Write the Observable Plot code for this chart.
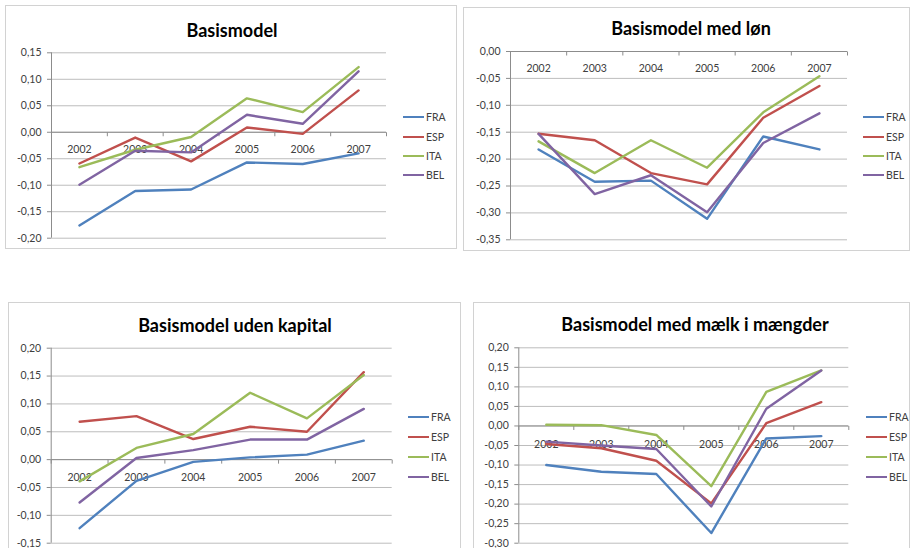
<!DOCTYPE html>
<html><head><meta charset="utf-8">
<script src="https://cdn.jsdelivr.net/npm/d3@7"></script>
<script src="https://cdn.jsdelivr.net/npm/@observablehq/plot@0.6"></script>
<style>
body{margin:0;background:#fff;font-family:Lato,"Open Sans",sans-serif;}
#root{position:relative;width:911px;height:548px;overflow:hidden;background:#fff}
.panel{position:absolute;border:1px solid #d2d2d2;box-sizing:border-box;background:#fff}
.title{position:absolute;font-weight:bold;font-size:18px;color:#000;transform:translate(-50%,-50%);white-space:nowrap}
.lrow{position:absolute;display:flex;align-items:center;white-space:nowrap;transform:translateY(-50%);font-size:10.5px;color:#404040}
.lrow .sw{width:21px;height:2px;margin-right:2px}
.plotwrap{position:absolute}
</style></head><body><div id="root"></div>
<script>
// ---- data ----
const years = ["2002", "2003", "2004", "2005", "2006", "2007"];
const series = ["FRA", "ESP", "ITA", "BEL"];
const seriesColors = ["#4f81bd", "#c0504d", "#9bbb59", "#8064a2"];
const titles = ["Basismodel", "Basismodel med løn", "Basismodel uden kapital", "Basismodel med mælk i mængder"];

// Basismodel
const basisFRA = [-0.176, -0.111, -0.108, -0.057, -0.060, -0.040];
const basisESP = [-0.059, -0.010, -0.055, 0.009, -0.003, 0.079];
const basisITA = [-0.066, -0.033, -0.009, 0.064, 0.038, 0.123];
const basisBEL = [-0.099, -0.035, -0.038, 0.033, 0.016, 0.115];
const basisTicks = [-0.20, -0.15, -0.10, -0.05, 0.00, 0.05, 0.10, 0.15];

// Basismodel med løn
const lonFRA = [-0.182, -0.242, -0.240, -0.311, -0.158, -0.182];
const lonESP = [-0.153, -0.165, -0.226, -0.247, -0.123, -0.064];
const lonITA = [-0.167, -0.226, -0.165, -0.216, -0.113, -0.046];
const lonBEL = [-0.153, -0.265, -0.230, -0.299, -0.170, -0.115];
const lonTicks = [-0.35, -0.30, -0.25, -0.20, -0.15, -0.10, -0.05, 0.00];

// Basismodel uden kapital
const kapFRA = [-0.123, -0.038, -0.004, 0.004, 0.009, 0.034];
const kapESP = [0.068, 0.078, 0.037, 0.059, 0.050, 0.157];
const kapITA = [-0.039, 0.021, 0.046, 0.120, 0.074, 0.152];
const kapBEL = [-0.077, 0.003, 0.017, 0.036, 0.036, 0.091];
const kapTicks = [-0.15, -0.10, -0.05, 0.00, 0.05, 0.10, 0.15, 0.20];

// Basismodel med mælk i mængder
const maelkFRA = [-0.100, -0.117, -0.123, -0.274, -0.032, -0.026];
const maelkESP = [-0.046, -0.057, -0.089, -0.198, 0.007, 0.061];
const maelkITA = [0.003, 0.002, -0.023, -0.154, 0.087, 0.142];
const maelkBEL = [-0.040, -0.050, -0.059, -0.206, 0.044, 0.142];
const maelkTicks = [-0.30, -0.25, -0.20, -0.15, -0.10, -0.05, 0.00, 0.05, 0.10, 0.15, 0.20];

// ---- layout (page pixel coordinates) ----
const panels = [
  {title: titles[0], values: [basisFRA, basisESP, basisITA, basisBEL], ticks: basisTicks,
   box: {x0: 5, y0: 5, x1: 457, y1: 249}, area: {l: 51, r: 386, t: 52.3, b: 237.7},
   titlePos: [232, 30], legendX: 403, legendY: [117, 136.5, 156, 175], labelDy: 17},
  {title: titles[1], values: [lonFRA, lonESP, lonITA, lonBEL], ticks: lonTicks,
   box: {x0: 463, y0: 7, x1: 910, y1: 251}, area: {l: 510, r: 847, t: 51, b: 239.3},
   titlePos: [691, 28], legendX: 863, legendY: [117, 136.5, 156, 175], labelDy: 17},
  {title: titles[2], values: [kapFRA, kapESP, kapITA, kapBEL], ticks: kapTicks,
   box: {x0: 8, y0: 302, x1: 461, y1: 570}, area: {l: 50.7, r: 391.7, t: 347.7, b: 542.7},
   titlePos: [235, 325], legendX: 408, legendY: [416.7, 436.7, 456.7, 476.7], labelDy: 18},
  {title: titles[3], values: [maelkFRA, maelkESP, maelkITA, maelkBEL], ticks: maelkTicks,
   box: {x0: 473, y0: 302, x1: 910, y1: 570}, area: {l: 518.3, r: 848.3, t: 347.3, b: 542.7},
   titlePos: [695, 324.3], legendX: 866, legendY: [416.7, 436.7, 456.7, 476.7], labelDy: 18.5}
];

const gridColor = "#bdbdbd";
const axisColor = "#8c8c8c";
const textColor = "#404040";
const fmt = d => d.toFixed(2).replace(".", ",");
const tickDown = {draw(context) { context.moveTo(0, 0); context.lineTo(0, 4); }};

const root = document.getElementById("root");

for (const p of panels) {
  const {box, area} = p;
  const panel = document.createElement("div");
  panel.className = "panel";
  Object.assign(panel.style, {left: box.x0 + "px", top: box.y0 + "px",
    width: (box.x1 - box.x0) + "px", height: (box.y1 - box.y0) + "px"});
  root.appendChild(panel);

  const data = series.flatMap((s, k) => p.values[k].map((v, i) => ({year: i, value: v, series: s})));
  const boundaries = d3.range(years.length + 1).map(i => i - 0.5);
  const W = box.x1 - box.x0, H = box.y1 - box.y0;

  const svg = Plot.plot({
    width: W, height: H,
    marginLeft: area.l - box.x0, marginRight: box.x1 - area.r,
    marginTop: area.t - box.y0, marginBottom: box.y1 - area.b,
    style: {background: "transparent", overflow: "visible", fontFamily: "Lato, 'Open Sans', sans-serif"},
    x: {domain: [-0.5, years.length - 0.5], axis: null},
    y: {domain: [p.ticks[0], p.ticks[p.ticks.length - 1]], label: null},
    color: {domain: series, range: seriesColors},
    marks: [
      Plot.ruleY(p.ticks, {stroke: gridColor, strokeWidth: 1}),
      Plot.ruleX([-0.5], {stroke: axisColor}),
      Plot.ruleY([0], {stroke: axisColor}),
      Plot.dot(boundaries, {x: d => d, y: () => 0, symbol: tickDown, stroke: axisColor, fill: "none", strokeWidth: 1}),
      Plot.axisY({ticks: p.ticks, anchor: "left", tickSize: 4, tickPadding: 6, tickFormat: fmt,
        stroke: axisColor, fill: textColor, fontSize: 10.5, label: null}),
      Plot.text(years, {x: (d, i) => i, y: () => 0, dy: p.labelDy, text: d => d, fill: textColor, fontSize: 10.5}),
      Plot.line(data, {x: "year", y: "value", z: "series", stroke: "series", strokeWidth: 2.4, curve: "linear"})
    ]
  });
  const wrap = document.createElement("div");
  wrap.className = "plotwrap";
  Object.assign(wrap.style, {left: box.x0 + "px", top: box.y0 + "px"});
  wrap.appendChild(svg);
  root.appendChild(wrap);

  const t = document.createElement("div");
  t.className = "title";
  t.textContent = p.title;
  Object.assign(t.style, {left: p.titlePos[0] + "px", top: p.titlePos[1] + "px"});
  root.appendChild(t);

  series.forEach((s, k) => {
    const row = document.createElement("div");
    row.className = "lrow";
    Object.assign(row.style, {left: p.legendX + "px", top: p.legendY[k] + "px"});
    const sw = document.createElement("span");
    sw.className = "sw";
    sw.style.background = seriesColors[k];
    const lab = document.createElement("span");
    lab.textContent = s;
    row.appendChild(sw); row.appendChild(lab);
    root.appendChild(row);
  });
}
</script></body></html>
